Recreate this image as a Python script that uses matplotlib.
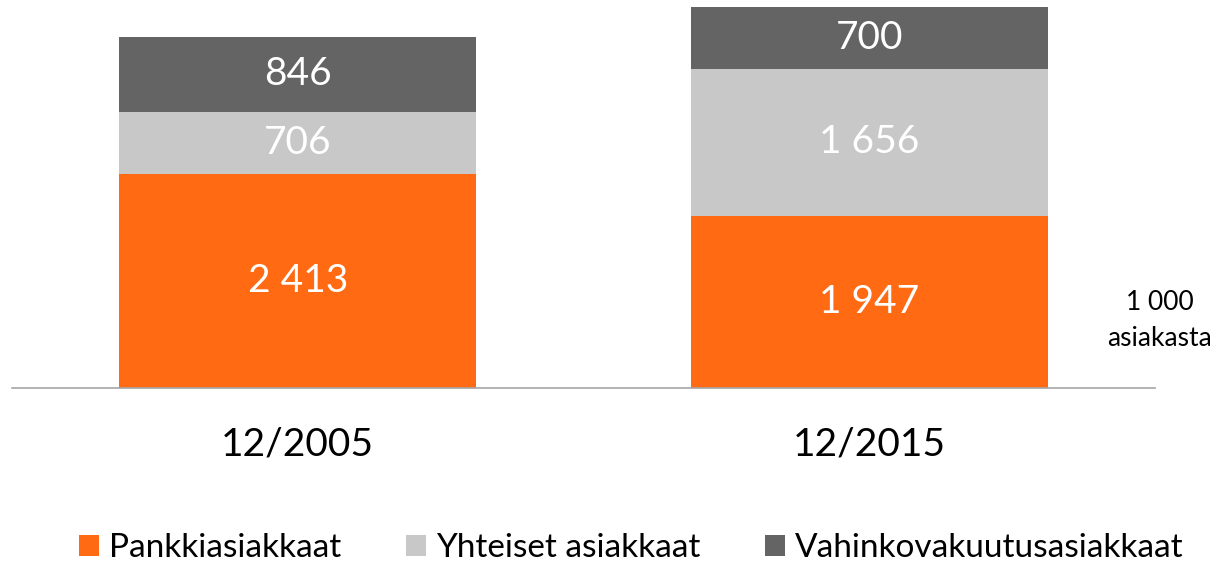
import matplotlib

matplotlib.use("Agg")
import matplotlib.pyplot as plt
from matplotlib.patches import Patch

# data
periods = ["12/2005", "12/2015"]
series_names = ["Pankkiasiakkaat", "Yhteiset asiakkaat", "Vahinkovakuutusasiakkaat"]
bank_only = [2413, 1947]
joint = [706, 1656]
insurance_only = [846, 700]
unit_label = "1 000\nasiakasta"

colors = ["#FF6A13", "#C8C8C8", "#646464"]

plt.rcParams["font.family"] = ["Lato", "DejaVu Sans"]

fig = plt.figure(figsize=(12.26, 5.63), dpi=100)
ax = fig.add_axes([12 / 1226, 1 - 388 / 563, 1143 / 1226, (388 - 7) / 563])

x = list(range(len(periods)))
bottom = [0, 0]
for values, color in zip([bank_only, joint, insurance_only], colors):
    ax.bar(x, values, width=0.625, bottom=bottom, color=color, linewidth=0)
    for xi, b, v in zip(x, bottom, values):
        ax.text(xi, b + v / 2, f"{v:,}".replace(",", " "), ha="center", va="center",
                color="white", fontsize=28)
    bottom = [b + v for b, v in zip(bottom, values)]

ax.set_xlim(-0.5, 1.5)
ax.set_ylim(0, max(bottom))
for side in ["left", "right", "top"]:
    ax.spines[side].set_visible(False)
ax.spines["bottom"].set_color("#A6A6A6")
ax.spines["bottom"].set_linewidth(1.2)
ax.set_yticks([])
ax.set_xticks(x)
ax.set_xticklabels(periods, fontsize=28)
ax.tick_params(axis="x", length=0, pad=28)

fig.text(1160 / 1226, 1 - 320 / 563, unit_label, ha="center", va="center",
         fontsize=19, linespacing=1.55)

handles = [Patch(facecolor=c, edgecolor="none") for c in colors]
fig.legend(handles, series_names, loc="center", bbox_to_anchor=(0.515, 1 - 548 / 563),
           ncol=3, frameon=False, fontsize=24, handlelength=0.6, handleheight=0.6,
           handletextpad=0.3, columnspacing=1.95)

fig.savefig("out.png", dpi=100)
